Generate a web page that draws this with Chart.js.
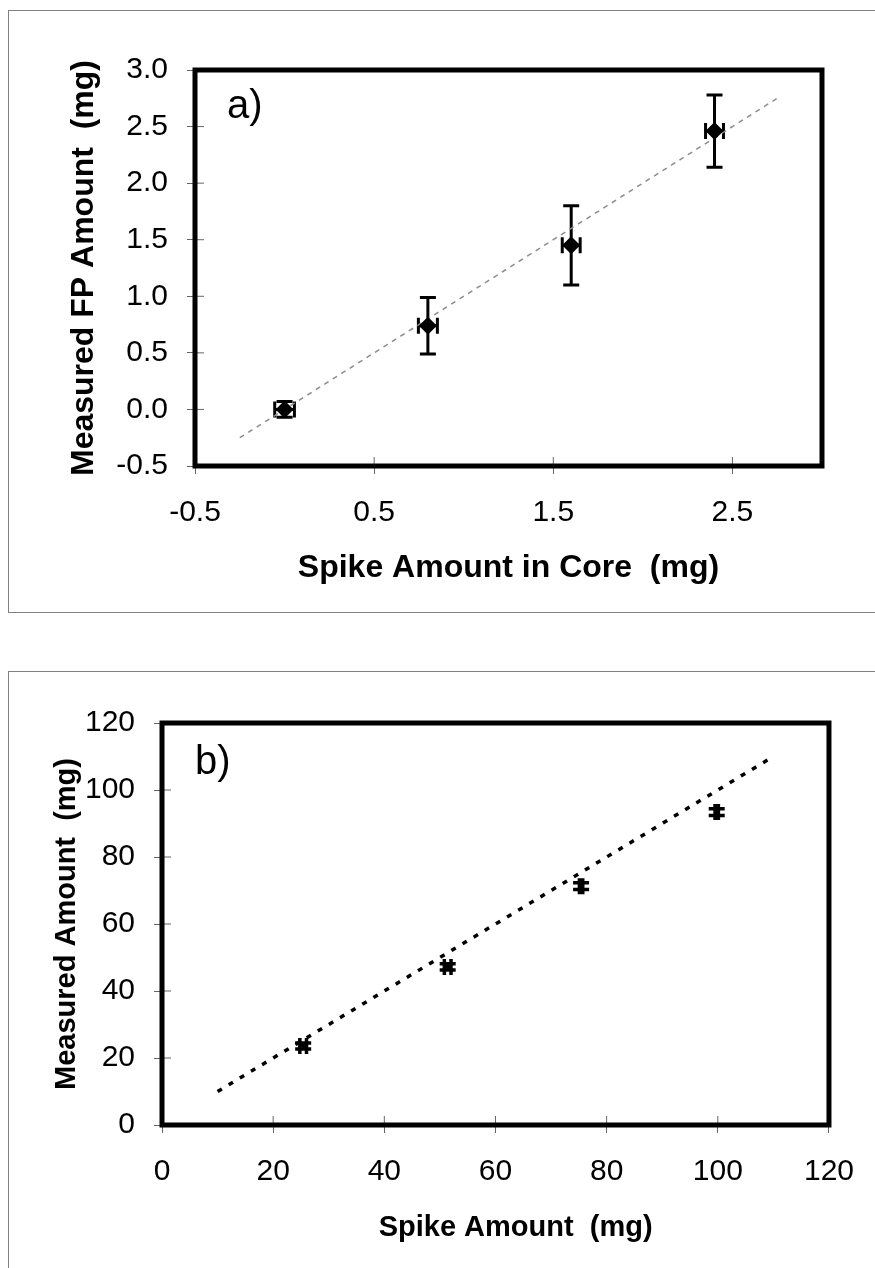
<!DOCTYPE html>
<html>
<head>
<meta charset="utf-8">
<title>Spike recovery</title>
<script src="https://cdn.jsdelivr.net/npm/chart.js@4.4.1/dist/chart.umd.min.js"></script>
<style>
    body { margin: 0; background: #fff; width: 875px; height: 1268px; overflow: hidden; position: relative; }
    .frame { position: absolute; border: 1px solid #808080; }
    #frameA { left: 8px; top: 10px; width: 900px; height: 601px; }
    #frameB { left: 8px; top: 671px; width: 900px; height: 700px; }
    canvas { position: absolute; left: 0; }
    #chartA { top: 0; }
    #chartB { top: 640px; }
</style>
</head>
<body>
<div class="frame" id="frameA"></div>
<div class="frame" id="frameB"></div>
<canvas id="chartA" width="875" height="640"></canvas>
<canvas id="chartB" width="875" height="628"></canvas>
<script>
// a) spike in core vs measured FP
const coreSpike = [0, 0.8, 1.6, 2.4];
const coreMeasured = [0, 0.74, 1.45, 2.46];
const coreSpikeErr = [0.055, 0.053, 0.05, 0.05];
const coreMeasuredErr = [0.07, 0.25, 0.35, 0.32];
const coreTrendX = [-0.25, 2.75];
const coreTrendY = [-0.25, 2.75];
const coreXTicks = [-0.5, 0.5, 1.5, 2.5];
const coreYTicks = [-0.5, 0, 0.5, 1.0, 1.5, 2.0, 2.5, 3.0];

// b) spike vs measured
const spikeAmount = [25.4, 51.4, 75.4, 99.8];
const measuredAmount = [23.6, 47.2, 71.3, 93.4];
const spikeErr = [0.6, 0.6, 0.3, 0.3];
const measuredErr = [0.9, 0.9, 1.0, 1.0];
const spikeTrendX = [10, 110];
const spikeTrendY = [10, 110];
const spikeTicks = [0, 20, 40, 60, 80, 100, 120];

const FONT = '"Liberation Sans", Arial, sans-serif';

const boxPlugin = {
    id: 'box',
    beforeDatasetsDraw(chart, args, opts) {
        const { ctx, scales: { x, y } } = chart;
        const pts = chart.data.datasets[0].data;
        ctx.save();
        ctx.strokeStyle = '#000';
        ctx.lineWidth = opts.barWidth;
        pts.forEach((p, i) => {
            const px = x.getPixelForValue(p.x);
            const py = y.getPixelForValue(p.y);
            const xl = x.getPixelForValue(p.x - opts.xErr[i]);
            const xr = x.getPixelForValue(p.x + opts.xErr[i]);
            const yt = y.getPixelForValue(p.y + opts.yErr[i]);
            const yb = y.getPixelForValue(p.y - opts.yErr[i]);
            const c = opts.cap;
            ctx.beginPath();
            ctx.moveTo(xl, py); ctx.lineTo(xr, py);
            ctx.moveTo(xl, py - c); ctx.lineTo(xl, py + c);
            ctx.moveTo(xr, py - c); ctx.lineTo(xr, py + c);
            ctx.moveTo(px, yt); ctx.lineTo(px, yb);
            ctx.moveTo(px - c, yt); ctx.lineTo(px + c, yt);
            ctx.moveTo(px - c, yb); ctx.lineTo(px + c, yb);
            ctx.stroke();
        });
        ctx.restore();
    },
    afterDraw(chart, args, opts) {
        const { ctx, chartArea: a, scales: { x, y } } = chart;
        ctx.save();
        // tick stubs inside the plot
        ctx.strokeStyle = '#666';
        ctx.lineWidth = 1;
        ctx.beginPath();
        x.ticks.forEach(t => {
            const px = x.getPixelForValue(t.value);
            ctx.moveTo(px, a.bottom); ctx.lineTo(px, a.bottom - 9);
        });
        y.ticks.forEach(t => {
            const py = y.getPixelForValue(t.value);
            ctx.moveTo(a.left, py); ctx.lineTo(a.left + 9, py);
        });
        ctx.stroke();
        // heavy frame
        ctx.strokeStyle = '#000';
        ctx.lineWidth = 5;
        ctx.strokeRect(a.left, a.top, a.right - a.left, a.bottom - a.top);
        // panel letter
        ctx.fillStyle = '#000';
        ctx.font = '40px ' + FONT;
        ctx.textBaseline = 'alphabetic';
        ctx.fillText(opts.label, a.left + opts.labelX, a.top + opts.labelY);
        ctx.restore();
    }
};

function makeChart(id, cfg) {
    const canvas = document.getElementById(id);
    return new Chart(canvas, {
        type: 'scatter',
        data: {
            datasets: [{
                data: cfg.xs.map((v, i) => ({ x: v, y: cfg.ys[i] })),
                pointStyle: 'rectRot',
                pointRadius: cfg.pointRadius,
                backgroundColor: '#000',
                borderColor: '#000',
                borderWidth: 0
            }, {
                type: 'line',
                data: cfg.trendX.map((v, i) => ({ x: v, y: cfg.trendY[i] })),
                borderColor: cfg.trendColor,
                borderWidth: cfg.trendWidth,
                borderDash: cfg.trendDash,
                pointRadius: 0,
                fill: false
            }]
        },
        options: {
            responsive: false,
            animation: false,
            layout: { padding: { top: cfg.padTop, right: cfg.padRight, left: 0, bottom: 0 } },
            plugins: {
                legend: { display: false },
                tooltip: { enabled: false },
                box: {
                    xErr: cfg.xErr, yErr: cfg.yErr, cap: cfg.cap, barWidth: cfg.barWidth,
                    label: cfg.label, labelX: cfg.labelX, labelY: cfg.labelY
                }
            },
            scales: {
                x: {
                    type: 'linear',
                    min: cfg.xTicks[0],
                    max: cfg.xMax,
                    afterBuildTicks: s => { s.ticks = cfg.xTicks.map(v => ({ value: v })); },
                    afterFit: s => { s.height = cfg.xAxisH; },
                    border: { display: false },
                    grid: { drawOnChartArea: false, drawTicks: true, tickLength: 8, color: '#666' },
                    ticks: { color: '#000', padding: 21, font: { family: FONT, size: 30 }, callback: cfg.fmt },
                    title: {
                        display: true, text: cfg.xTitle, color: '#000',
                        font: { family: FONT, size: cfg.titleSize, weight: 'bold' },
                        padding: { top: 0, bottom: cfg.xTitlePad }
                    }
                },
                y: {
                    type: 'linear',
                    min: cfg.yTicks[0],
                    max: cfg.yTicks[cfg.yTicks.length - 1],
                    afterBuildTicks: s => { s.ticks = cfg.yTicks.map(v => ({ value: v })); },
                    afterFit: s => { s.width = cfg.yAxisW; },
                    border: { display: false },
                    grid: { drawOnChartArea: false, drawTicks: true, tickLength: 8, color: '#666' },
                    ticks: { color: '#000', padding: 19, font: { family: FONT, size: 30 }, callback: cfg.fmt },
                    title: {
                        display: true, text: cfg.yTitle, color: '#000',
                        font: { family: FONT, size: cfg.titleSize, weight: 'bold' },
                        padding: { top: cfg.yTitlePad, bottom: 0 }
                    }
                }
            }
        },
        plugins: [boxPlugin]
    });
}

makeChart('chartA', {
    xs: coreSpike, ys: coreMeasured, xErr: coreSpikeErr, yErr: coreMeasuredErr,
    trendX: coreTrendX, trendY: coreTrendY,
    xTicks: coreXTicks, yTicks: coreYTicks, xMax: 3.0,
    fmt: v => Number(v).toFixed(1),
    pointRadius: 9, cap: 8, barWidth: 3,
    trendColor: '#8c8c8c', trendWidth: 1.5, trendDash: [5, 5],
    padTop: 70, padRight: 53, yAxisW: 195, xAxisH: 174,
    titleSize: 32,
    xTitle: 'Spike Amount in Core  (mg)', yTitle: 'Measured FP Amount  (mg)',
    xTitlePad: 53, yTitlePad: 65,
    label: 'a)', labelX: 32, labelY: 48
});

makeChart('chartB', {
    xs: spikeAmount, ys: measuredAmount, xErr: spikeErr, yErr: measuredErr,
    trendX: spikeTrendX, trendY: spikeTrendY,
    xTicks: spikeTicks, yTicks: spikeTicks, xMax: 120,
    fmt: v => String(v),
    pointRadius: 0, cap: 8, barWidth: 3.5,
    trendColor: '#000', trendWidth: 3.5, trendDash: [5, 8],
    padTop: 83, padRight: 42, yAxisW: 162, xAxisH: 143,
    titleSize: 29,
    xTitle: '     Spike Amount  (mg)', yTitle: 'Measured Amount  (mg)',
    xTitlePad: 23, yTitlePad: 50,
    label: 'b)', labelX: 33, labelY: 51
});
</script>
</body>
</html>
